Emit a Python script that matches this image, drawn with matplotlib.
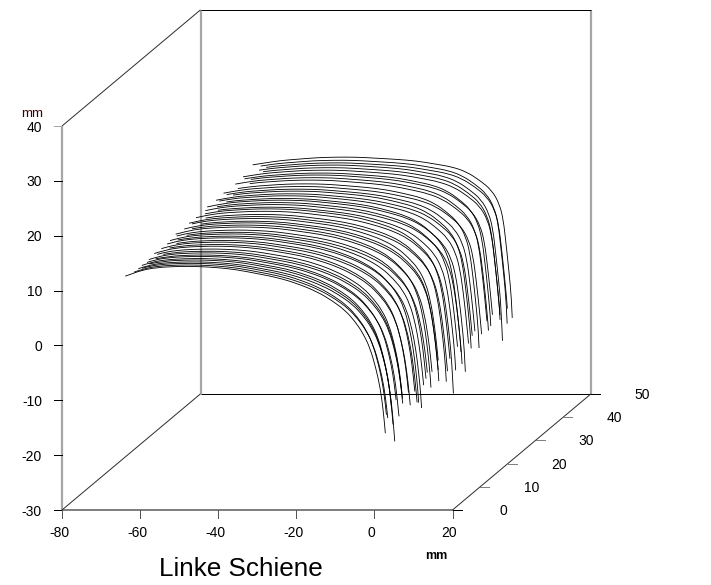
# -*- coding: utf-8 -*-
import numpy as np
import matplotlib
matplotlib.use('Agg')
import matplotlib.pyplot as plt
from matplotlib.path import Path
from matplotlib.patches import PathPatch

plt.rcParams['font.family'] = ['Liberation Sans', 'DejaVu Sans']

# rail head profile at the first and the last section, in mm (x, z)
profile_first_x = [-64.7, -62.7, -59.6, -55.8, -50.6, -45.5, -40.3, -35.2, -30.1, -25.0, -19.8,
                   -14.7, -10.9, -7.5, -5.0, -2.9, -1.1, 0.4, 1.5, 2.2, 2.7, 3.2]
profile_first_z = [12.4, 12.9, 13.7, 14.2, 14.4, 14.4, 14.2, 13.8, 13.1, 12.4, 11.3,
                   9.8, 8.2, 6.4, 4.4, 2.2, -0.5, -4.2, -7.8, -11.5, -15.1, -19.7]
profile_last_x = [-65.5, -64.2, -59.8, -55.8, -52.2, -47.0, -41.9, -36.8, -31.7, -26.6, -21.4,
                  -16.3, -12.2, -8.6, -5.3, -2.2, -0.2, 0.8, 1.5, 2.2, 2.9, 3.4]
profile_last_z = [13.2, 13.6, 14.1, 14.5, 14.7, 15.0, 15.1, 15.1, 14.9, 14.7, 14.4,
                  13.8, 13.3, 12.4, 10.9, 9.1, 6.6, 3.7, -0.7, -5.4, -10.7, -20.0]

# one entry per measured section
rail_y = [0.0, 0.6, 1.3, 1.9, 2.7, 3.3, 4.2, 4.8, 5.7, 6.4, 7.3,
          8.5, 9.2, 10.2, 10.9, 12.0, 12.7, 13.6, 14.3, 15.2,
          16.5, 17.3, 18.2, 18.9, 20.0, 20.8, 21.7,
          23.0, 24.0, 24.7, 25.8, 26.6, 27.6, 28.3, 29.4, 30.2, 31.3, 32.1, 33.2, 34.3,
          35.9, 36.9, 38.0, 38.8, 40.0, 41.0, 42.1, 43.0, 44.1, 45.4]
x_offset = [0.0, 0.5, -0.3, 0.8, 0.1, -0.4, 0.6, -0.2, 0.7, 0.2, -0.5,
            0.4, -0.3, 0.9, 0.0, 0.6, -0.6, 0.3, 1.0, -0.2,
            0.5, -0.7, 0.8, 0.2, -0.4, 1.1, 0.0,
            0.7, -0.5, 0.3, 1.2, -0.3, 0.6, -0.8, 0.4, 0.9, -0.4, 0.2, 1.0, -0.6,
            0.8, -0.2, 0.5, -0.7, 0.9, 0.1, -0.3, 0.6, -0.4, 0.0]
start_x = [-63.8, -62.0, -60.4, -61.8, -59.6, -61.9, -61.2, -59.4, -61.8, -58.6, -60.8, -62.4,
           -59.0, -61.8, -58.4, -61.6, -59.4, -62.0, -58.2, -61.4, -62.6, -59.0, -61.6, -57.8,
           -60.9, -62.2, -58.6, -62.0, -60.4, -57.6, -61.6, -59.2, -62.4, -58.0, -60.6, -62.0,
           -58.4, -60.6, -62.2, -59.3, -57.4, -61.8, -58.6, -60.8, -62.0, -57.6, -59.4, -58.2,
           -60.4, -63.4]
end_z = [-16.0, -13.5, -13.2, -18.3, -12.5, -15.8, -14.7, -12.0, -13.0, -11.5, -12.8, -14.5,
         -12.5, -14.7, -13.0, -16.5, -15.8, -13.0, -11.0, -12.5, -11.8, -15.0, -12.2, -14.5,
         -11.2, -13.5, -15.8, -18.5, -12.6, -15.0, -14.3, -11.5, -16.5, -13.2, -12.1, -11.0,
         -13.8, -11.0, -12.0, -15.0, -12.5, -11.2, -10.5, -12.9, -11.4, -12.7, -17.0, -11.5,
         -14.7, -14.2]
wear = [0.00, 0.02, 0.03, 0.05, 0.06, 0.08, 0.09, 0.10, 0.12, 0.13, 0.16, 0.18, 0.20, 0.22,
        0.25, 0.27, 0.28, 0.31, 0.33, 0.36, 0.38, 0.40, 0.43, 0.45, 0.48, 0.50, 0.52, 0.55,
        0.57, 0.59, 0.60, 0.63, 0.66, 0.68, 0.70, 0.73, 0.76, 0.78, 0.80, 0.82, 0.83, 0.85,
        0.87, 0.89, 0.91, 0.94, 0.95, 0.97, 0.98, 1.00]

x_ticks = [-80, -60, -40, -20, 0, 20]
y_ticks = [0, 10, 20, 30, 40, 50]
z_ticks = [-30, -20, -10, 0, 10, 20, 30, 40]
x_lim = (-80, 20)
y_lim = (0, 50)
z_lim = (-30, 40)

# oblique view: moving along y shifts the drawing right and up
shift_x = 0.7095
shift_z = 0.4235


def view(x, y, z):
    return np.asarray(x) + np.asarray(y) * shift_x, np.asarray(z) + np.asarray(y) * shift_z


W, H = 711, 585
fig = plt.figure(figsize=(W / 100, H / 100), dpi=100)
ax = fig.add_axes([62 / W, 1 - 510 / H, 390.5 / W, 384 / H])
ax.set_xlim(*x_lim)
ax.set_ylim(*z_lim)
ax.axis('off')

px = 0.72  # one pixel in points
gray = '#a6a6a6'


def edge(x, y, z, color='black', lw=1.0):
    sx, sz = view(x, y, z)
    ax.plot(sx, sz, color=color, lw=lw * px, clip_on=False, solid_capstyle='butt', zorder=1)


# box
x0, x1 = x_lim
y0, y1 = y_lim
z0, z1 = z_lim
edge([x0, x0], [y0, y0], [z0, z1], gray, 2.2)
edge([x0, x1], [y0, y0], [z0, z0], '#808080', 2.0)
edge([x0, x0], [y1, y1], [z0, z1], gray, 2.2)
edge([x1, x1], [y1, y1], [z0, z1], gray, 2.2)
edge([x0, x1], [y1, y1], [z1, z1], 'black', 1.0)
edge([x0, x1], [y1, y1], [z0, z0], 'black', 1.0)
edge([x0, x0], [y0, y1], [z0, z0], '#303030', 1.0)
edge([x0, x0], [y0, y1], [z1, z1], '#303030', 1.0)
edge([x1, x1], [y0, y1], [z0, z0], '#303030', 1.0)

# ticks and labels
for v in z_ticks:
    ax.plot([x0 - 8 / 3.905, x0], [v, v], color='black' if v != 40 else gray, lw=px, clip_on=False)
    ax.annotate(str(v), xy=(x0, v), xytext=(-20 * px, -1.5 * px), textcoords='offset points', ha='right', va='center',
                fontsize=10, annotation_clip=False)
for v in x_ticks:
    ax.plot([v, v], [z0 - 8 / 5.486, z0], color='#555555', lw=px, clip_on=False)
    ax.annotate(str(v), xy=(v, z0), xytext=(-3 * px, -23 * px), textcoords='offset points', ha='center', va='center',
                fontsize=10, annotation_clip=False)
for v in y_ticks:
    sx, sz = view(x1, v, z0)
    ax.plot([sx, sx + 9 / 3.905], [sz, sz], color='#808080' if v % 50 else 'black', lw=px, clip_on=False)
    ax.annotate(str(v), xy=(sx, sz), xytext=(51 * px, -1 * px), textcoords='offset points', ha='center', va='center',
                fontsize=10, annotation_clip=False)

# sections, drawn as quadratic curves through the profile points
first_x = np.array(profile_first_x)
first_z = np.array(profile_first_z)
last_x = np.array(profile_last_x)
last_z = np.array(profile_last_z)
for y, dx, xs, ze, w in zip(rail_y, x_offset, start_x, end_z, wear):
    cx = first_x + w * (last_x - first_x)
    # the offset grows towards the rail side, the crown stays put
    cx = cx + dx * np.clip((cx + 25) / 25, 0, 1)
    cz = first_z + w * (last_z - first_z)
    zs = np.interp(xs, cx, cz)
    xe = np.interp(ze, cz[::-1], cx[::-1])
    keep = (cx > xs) & (cz > ze)
    sx, sz = view(np.concatenate([[xs], cx[keep], [xe]]), y, np.concatenate([[zs], cz[keep], [ze]]))
    pts = np.column_stack([sx, sz])
    verts = [pts[0]]
    codes = [Path.MOVETO]
    for i in range(1, len(pts) - 1):
        end = pts[i + 1] if i == len(pts) - 2 else (pts[i] + pts[i + 1]) / 2
        verts += [pts[i], end]
        codes += [Path.CURVE3, Path.CURVE3]
    ax.add_patch(PathPatch(Path(verts, codes), fc='none', ec='black', lw=0.85 * px, clip_on=False, zorder=3))

fig.text(32 / W, 1 - 114 / H, 'mm', fontsize=9.6, color='#400000', ha='center', va='center')
fig.text(436 / W, 1 - 556 / H, 'mm', fontsize=9, color='black', ha='center', va='center', fontweight='bold')
fig.text(241 / W, 1 - 569 / H, 'Linke Schiene', fontsize=18.8, color='black', ha='center', va='center')

fig.savefig('out.png', dpi=100)
